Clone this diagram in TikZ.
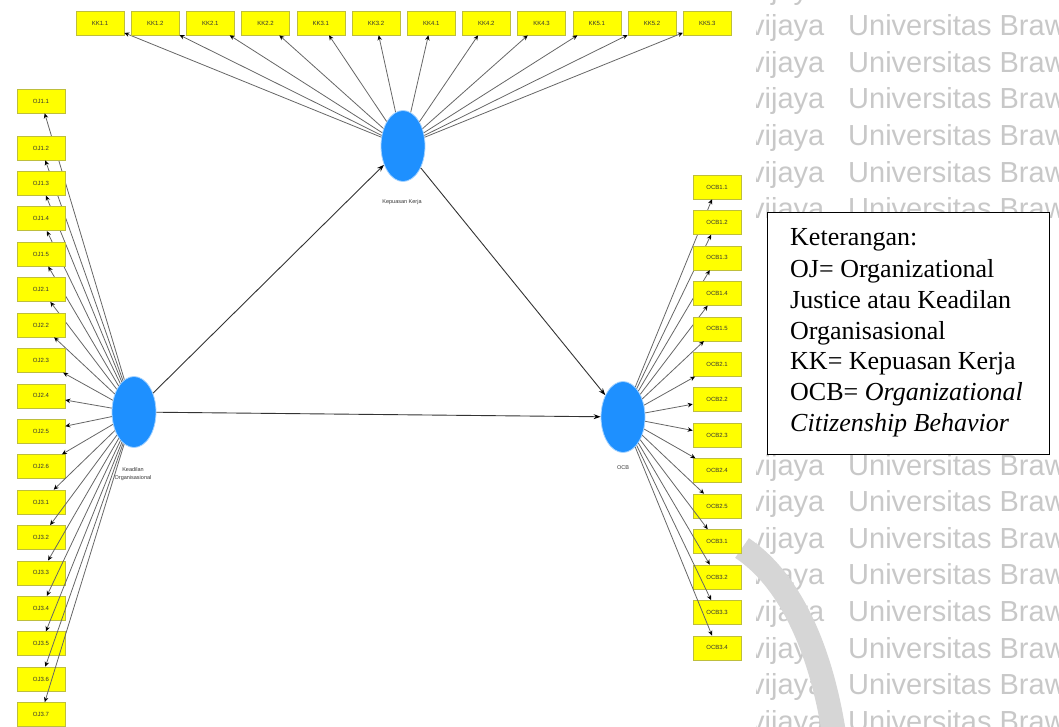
\documentclass[tikz,border=0pt]{standalone}
\usepackage{fontspec}
\setmainfont{Liberation Serif}
\newfontfamily\wmfont{Liberation Sans}
\newfontfamily\boxfont{Liberation Sans}
\usetikzlibrary{shapes.geometric,arrows.meta}
\definecolor{latblue}{RGB}{30,144,255}
\definecolor{indyel}{RGB}{255,255,0}
\definecolor{indbord}{RGB}{190,190,60}
\definecolor{wmgray}{RGB}{200,200,200}
\definecolor{logogray}{RGB}{214,214,214}
\tikzset{
  ind/.style={rectangle, fill=indyel, draw=indbord, line width=0.6, minimum width=48, minimum height=24, inner sep=0, font=\boxfont\fontsize{6}{7}\selectfont, text=black!80},
  lat/.style={ellipse, fill=latblue, draw=latblue!40, line width=0.8, minimum width=44, minimum height=71, inner sep=0},
  con/.style={draw=black!60, line width=0.8, -{Stealth[length=5,width=4.5,black]}},
  lcon/.style={draw=black!80, line width=0.9, -{Stealth[length=7,width=5,black]}},
  lbl/.style={font=\boxfont\fontsize{5.5}{6.5}\selectfont, text=black!80, inner sep=0, align=center},
  wm/.style={font=\wmfont\fontsize{29}{30}\selectfont, text=wmgray, inner sep=0, anchor=base west},
  kt/.style={font=\fontsize{26}{30}\selectfont, inner sep=0, anchor=base west},
}
\begin{document}
\begin{tikzpicture}[x=1pt,y=-1pt]
\useasboundingbox (0,0) rectangle (1059,727);
% watermark (rows hidden behind the legend box are left out)
\begin{scope}
\clip (756,0) rectangle (1059,727);
\foreach \j in {-13,...,-7,0,1,...,7}{
  \node[wm] (wa\j) at (750,{475+36.6*\j}) {vijaya};
  \node[wm] (wb\j) at (848,{475+36.6*\j}) {Universitas Brawijaya};
}
\end{scope}
% logo arc
\draw[logogray, line width=24] (742,548) .. controls (790,580) and (822,650) .. (835,740);
% legend box
\node[draw=black, line width=1.2, fill=white, minimum width=282, minimum height=242, inner sep=0, anchor=north west] (ket) at (767,212) {};
\node[kt] (k1) at (790,246) {Keterangan:};
\node[kt] (k2) at (790,277) {OJ= Organizational};
\node[kt] (k3) at (790,308) {Justice atau Keadilan};
\node[kt] (k4) at (790,339) {Organisasional};
\node[kt] (k5) at (790,369) {KK= Kepuasan Kerja};
\node[kt] (k6) at (790,400) {OCB= \textit{Organizational}};
\node[kt] (k7) at (790,431) {\textit{Citizenship Behavior}};
% latent variables
\node[lat] (kk) at (403,146) {};
\node[lat] (oj) at (134,412) {};
\node[lat] (ocb) at (623,417) {};
\node[lbl] (kkl) at (402,202) {Kepuasan Kerja};
\node[lbl] (ojl) at (133,474) {Keadilan\\[1pt]Organisasional};
\node[lbl] (ocbl) at (623,468) {OCB};
% KK indicators
\foreach \t [count=\i from 0] in {KK1.1,KK1.2,KK2.1,KK2.2,KK3.1,KK3.2,KK4.1,KK4.2,KK4.3,KK5.1,KK5.2,KK5.3}{
  \node[ind] (k-\i) at ({100+55.2*\i},23) {\t};
  \draw[con] (kk) -- (k-\i);
}
% OJ indicators
\node[ind] (oj-a) at (41,101) {OJ1.1};
\draw[con] (oj) -- (oj-a);
\foreach \t [count=\i from 0] in {OJ1.2,OJ1.3,OJ1.4,OJ1.5,OJ2.1,OJ2.2,OJ2.3,OJ2.4,OJ2.5,OJ2.6,OJ3.1,OJ3.2,OJ3.3,OJ3.4,OJ3.5,OJ3.6,OJ3.7}{
  \node[ind] (oj-\i) at (41,{148+35.4*\i}) {\t};
  \draw[con] (oj) -- (oj-\i);
}
% OCB indicators
\foreach \t [count=\i from 0] in {OCB1.1,OCB1.2,OCB1.3,OCB1.4,OCB1.5,OCB2.1,OCB2.2,OCB2.3,OCB2.4,OCB2.5,OCB3.1,OCB3.2,OCB3.3,OCB3.4}{
  \node[ind] (ocb-\i) at (717,{187+35.45*\i}) {\t};
  \draw[con] (ocb) -- (ocb-\i);
}
% structural paths
\draw[lcon] (oj) -- (kk);
\draw[lcon] (oj) -- (ocb);
\draw[lcon] (kk) -- (ocb);
\end{tikzpicture}
\end{document}
